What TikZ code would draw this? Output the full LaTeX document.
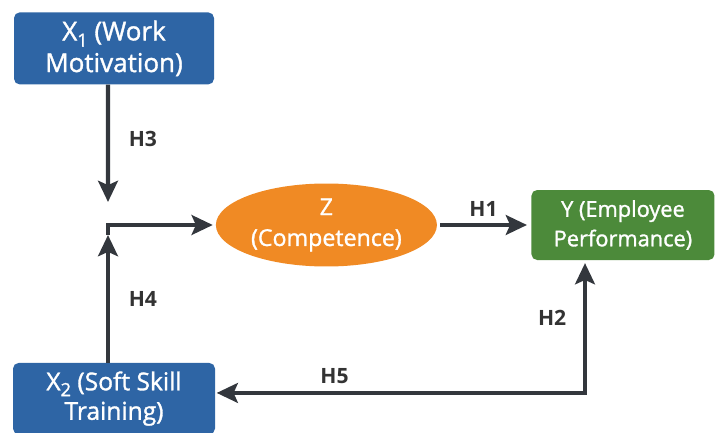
\documentclass[tikz,border=0pt]{standalone}
\usepackage{fontspec}
\setmainfont{Open Sans}
\setsansfont{Open Sans}
\newfontfamily\boxfont{Open Sans}[FakeBold=1.3]
\usepackage{xcolor}
\definecolor{BlueBox}{HTML}{2E65A5}
\definecolor{OrangeBox}{HTML}{F08A24}
\definecolor{GreenBox}{HTML}{4C8A3A}
\definecolor{ArrowGray}{HTML}{33373D}
\definecolor{LabelGray}{HTML}{333333}
\usetikzlibrary{shapes.geometric, arrows.meta, positioning}
\newcommand{\lowsub}[1]{\raisebox{-0.45ex}{\fontsize{13}{13}\selectfont #1}}
\tikzset{
  base node/.style={
    rectangle, rounded corners=4pt, align=center,
    font=\fontsize{16.5}{22}\selectfont\boxfont, text=white,
    inner sep=2pt, draw=none
  },
  blue node/.style={base node, fill=BlueBox, minimum width=#1, minimum height=1.8cm},
  green node/.style={base node, fill=GreenBox, minimum width=#1, minimum height=1.75cm},
  orange ellipse/.style={base node, ellipse, fill=OrangeBox,
    minimum width=5.43cm, minimum height=1.85cm},
  arrow/.style={-{Stealth[length=15pt, width=14pt, inset=3pt]}, line width=3pt, color=ArrowGray},
  darrow/.style={{Stealth[length=15pt, width=14pt, inset=3pt]}-{Stealth[length=15pt, width=14pt, inset=3pt]},
    line width=3pt, color=ArrowGray},
  hlabel/.style={font=\fontsize{15}{18}\selectfont\sffamily\bfseries, text=LabelGray},
}

\begin{document}
\begin{tikzpicture}
  \useasboundingbox (0,0) rectangle (17.875,-10.8);

  \node[blue node=5cm, font=\fontsize{18.5}{22.5}\selectfont\boxfont] (x1) at (2.85,-1.21)
    {X\lowsub{1} (Work\\Motivation)};

  \node[blue node=5.05cm, below=6.95cm of x1, minimum height=1.78cm,
    font=\fontsize{17.5}{21}\selectfont\boxfont] (x2)
    {X\lowsub{2} (Soft Skill\\Training)};

  \node[orange ellipse] (z) at (8.16,-5.625) {Z\\(Competence)};

  \node[green node=4.575cm, right=2.35cm of z, font=\fontsize{15.5}{21}\selectfont\boxfont] (y)
    {Y (Employee\\Performance)};

  % junction and turning points
  \coordinate (h3end) at (2.7,-5.05);
  \coordinate (h4tip) at (2.7,-5.875);
  \coordinate (h2x) at (14.625,0);

  \draw[arrow] ([xshift=-0.15cm]x1.south) -- (h3end)
    node[hlabel, midway, right=0.35cm, yshift=3pt] (h3) {H3};
  \draw[arrow] (x2.north -| h4tip) -- (h4tip)
    node[hlabel, midway, right=0.35cm] (h4) {H4};
  \draw[arrow] (h4tip) |- ([xshift=-2pt]z.west);

  \draw[arrow] ([xshift=2pt]z.east) -- ([xshift=-3pt]y.west)
    node[hlabel, midway, above=0.05cm] (h1) {H1};

  \draw[darrow] ([yshift=4pt, xshift=1pt]x2.east) -| ([yshift=-2pt]y.south -| h2x)
    node[hlabel, pos=0.16, above=0.05cm] (h5) {H5}
    node[hlabel, pos=0.79, left=0.3cm] (h2) {H2};
\end{tikzpicture}
\end{document}
